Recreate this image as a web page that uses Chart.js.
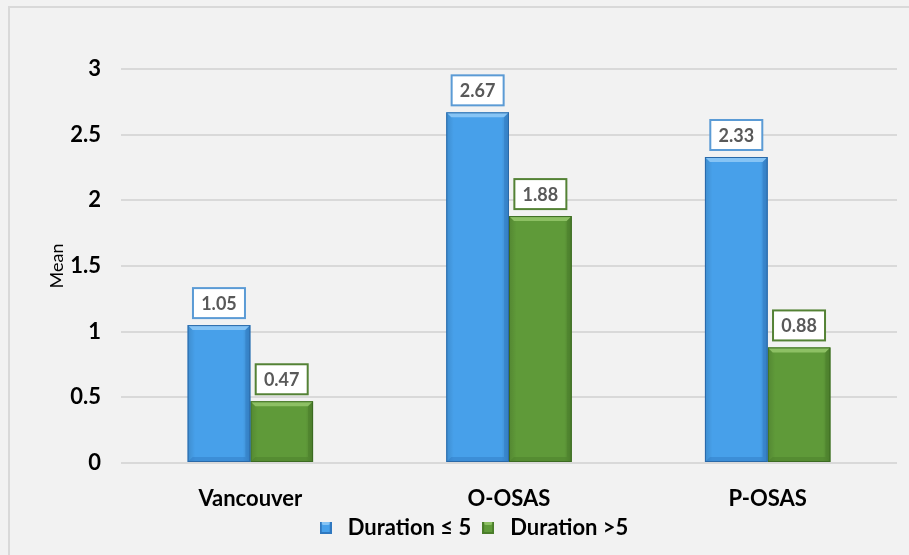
<!DOCTYPE html>
<html>
<head>
<meta charset="utf-8">
<script src="https://cdn.jsdelivr.net/npm/chart.js@4"></script>
<style>
  html, body { margin: 0; padding: 0; background: #f2f2f2; }
  #wrap { position: relative; width: 909px; height: 555px; }
  #frame { position: absolute; left: 8px; top: 6px; right: 0; bottom: 0;
           border-top: 2px solid #d9d9d9; border-left: 2px solid #d9d9d9; }
  canvas { position: absolute; left: 0; top: 0; }
</style>
</head>
<body>
<div id="wrap">
  <div id="frame"></div>
  <canvas id="chart" width="909" height="555"></canvas>
</div>
<script>
const categories = ["Vancouver", "O-OSAS", "P-OSAS"];
const shortDuration = [1.05, 2.67, 2.33];
const longDuration = [0.47, 1.88, 0.88];
const seriesNames = ["Duration \u2264 5", "Duration >5"];

// colours for each series: main, light top, dark side, border, label box
const palette = [
  { main: "#47a0ea", light: "#86c4f5", dark: "#2f78c0", border: "#2a69a8", box: "#5b9bd5" },
  { main: "#5f9a39", light: "#8dc064", dark: "#4a7d2a", border: "#3c6b22", box: "#548235" }
];

const FONT = "Lato, 'Open Sans', sans-serif";

const legendMarker = (p) => { // tiny bevelled square for the legend
  const c = document.createElement("canvas");
  c.width = 12; c.height = 12;
  const g = c.getContext("2d");
  g.fillStyle = p.main; g.fillRect(0, 0, 12, 12);
  g.fillStyle = p.light;
  g.beginPath(); g.moveTo(0, 0); g.lineTo(12, 0); g.lineTo(9, 3); g.lineTo(3, 3); g.closePath(); g.fill();
  g.fillStyle = p.dark;
  g.fillRect(0, 0, 2, 12); g.fillRect(10, 0, 2, 12); g.fillRect(0, 10, 12, 2);
  return c;
};

const bevelPlugin = { // bevel look on the bars, drawn over the library's bar elements
  id: "bevel",
  afterDatasetDraw(chart, args) {
    const p = palette[args.index];
    const ctx = chart.ctx;
    args.meta.data.forEach(bar => {
      const l = bar.x - bar.width / 2, r = bar.x + bar.width / 2;
      const t = bar.y, b = bar.base, e = 5;
      ctx.save();
      const side = ctx.createLinearGradient(l, 0, r, 0);
      side.addColorStop(0, "rgba(0,0,0,0.12)");
      side.addColorStop(0.12, "rgba(0,0,0,0)");
      side.addColorStop(0.88, "rgba(0,0,0,0)");
      side.addColorStop(1, "rgba(0,0,0,0.18)");
      ctx.fillStyle = side;
      ctx.fillRect(l, t, r - l, b - t);
      ctx.fillStyle = p.light;
      ctx.beginPath();
      ctx.moveTo(l, t); ctx.lineTo(r, t); ctx.lineTo(r - e, t + e); ctx.lineTo(l + e, t + e); ctx.closePath();
      ctx.fill();
      ctx.fillStyle = p.dark;
      ctx.beginPath();
      ctx.moveTo(r, t); ctx.lineTo(r, b); ctx.lineTo(r - e, b - e); ctx.lineTo(r - e, t + e); ctx.closePath();
      ctx.globalAlpha = 0.45; ctx.fill();
      ctx.beginPath();
      ctx.moveTo(l, b); ctx.lineTo(r, b); ctx.lineTo(r - e, b - e); ctx.lineTo(l + e, b - e); ctx.closePath();
      ctx.fill();
      ctx.globalAlpha = 1;
      ctx.strokeStyle = p.border; ctx.lineWidth = 1;
      ctx.strokeRect(l + 0.5, t + 0.5, r - l - 1, b - t - 1);
      ctx.restore();
    });
  }
};

const labelPlugin = { // boxed value labels above each bar
  id: "boxLabels",
  afterDatasetsDraw(chart) {
    const ctx = chart.ctx;
    chart.data.datasets.forEach((ds, i) => {
      const p = palette[i];
      chart.getDatasetMeta(i).data.forEach((bar, j) => {
        const w = 52, h = 30;
        const x = bar.x - w / 2, y = bar.y - 7 - h;
        ctx.save();
        ctx.fillStyle = "#ffffff";
        ctx.fillRect(x, y, w, h);
        ctx.strokeStyle = p.box; ctx.lineWidth = 2;
        ctx.strokeRect(x, y, w, h);
        ctx.fillStyle = "#595959";
        ctx.font = "bold 18px " + FONT;
        ctx.textAlign = "center"; ctx.textBaseline = "middle";
        ctx.fillText(ds.data[j].toFixed(2), bar.x, y + h / 2 + 1);
        ctx.restore();
      });
    });
  }
};

const ctx = document.getElementById("chart").getContext("2d");
new Chart(ctx, {
  type: "bar",
  data: {
    labels: categories,
    datasets: [
      { label: seriesNames[0], data: shortDuration, backgroundColor: palette[0].main, pointStyle: legendMarker(palette[0]) },
      { label: seriesNames[1], data: longDuration, backgroundColor: palette[1].main, pointStyle: legendMarker(palette[1]) }
    ]
  },
  options: {
    responsive: false,
    animation: false,
    layout: { padding: { top: 69, left: 46, right: 12, bottom: 6 } },
    datasets: { bar: { barPercentage: 1, categoryPercentage: 0.485 } },
    plugins: {
      tooltip: { enabled: false },
      legend: {
        position: "bottom",
        labels: {
          usePointStyle: true,
          padding: 6,
          color: "#000",
          font: { family: FONT, size: 22, weight: "bold" }
        }
      }
    },
    scales: {
      x: {
        grid: { display: false },
        border: { display: false },
        ticks: { padding: 15, color: "#000", font: { family: FONT, size: 22, weight: "bold" } },
        afterFit(scale) { scale.height = 48; }
      },
      y: {
        min: 0, max: 3,
        grid: { color: "#d9d9d9", lineWidth: 2, drawTicks: false },
        border: { display: false },
        ticks: {
          stepSize: 0.5, padding: 20, color: "#000",
          font: { family: FONT, size: 22, weight: "bold" },
          callback: (v) => String(v)
        },
        title: { display: true, text: "Mean", color: "#000", padding: 0, font: { family: FONT, size: 18 } },
        afterFit(scale) { scale.width = 75; }
      }
    }
  },
  plugins: [bevelPlugin, labelPlugin]
});
</script>
</body>
</html>
